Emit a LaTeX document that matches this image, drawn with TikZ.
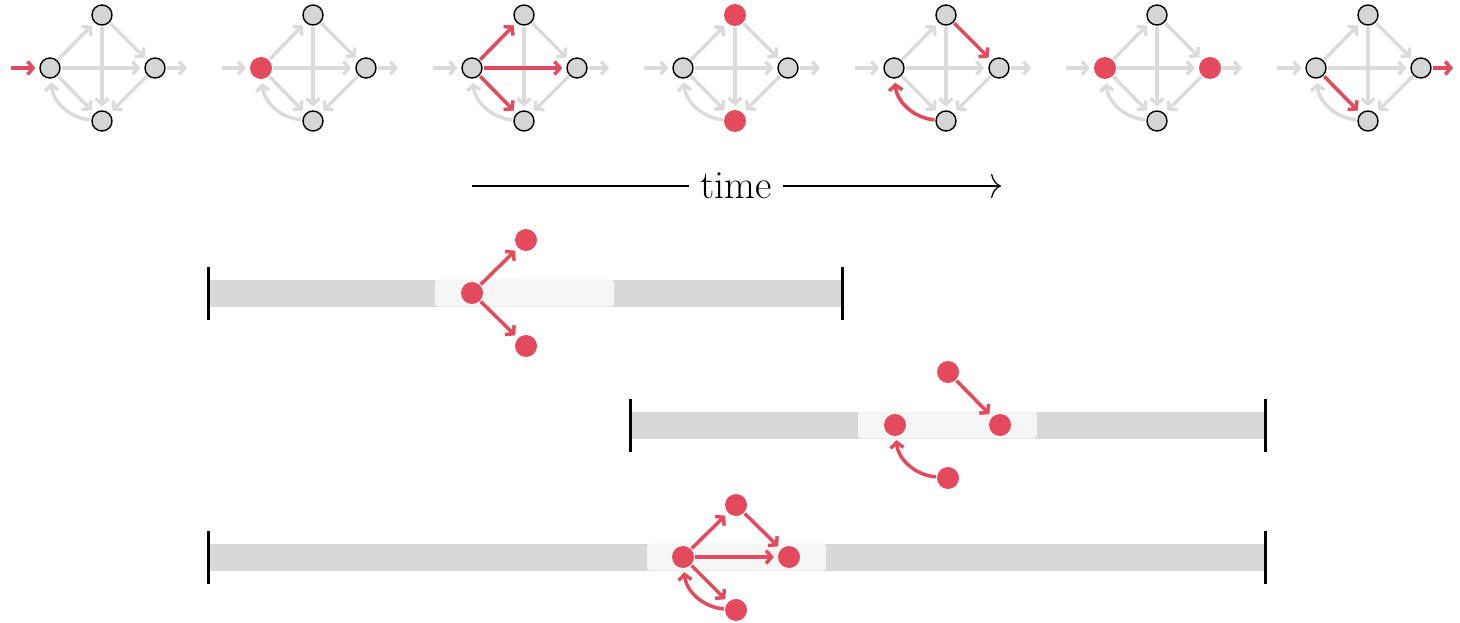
\documentclass[tikz,border=0pt]{standalone}
\usetikzlibrary{arrows.meta, positioning}
\definecolor{edgegray}{RGB}{219,219,219}
\definecolor{nodegray}{RGB}{213,213,213}
\definecolor{bargray}{RGB}{216,216,216}
\definecolor{barlight}{RGB}{245,245,245}
\definecolor{hired}{RGB}{228,74,94}

\begin{document}
\begin{tikzpicture}[x=1pt, y=1pt,
    gnode/.style={circle, draw=black, line width=1.4pt, fill=nodegray, minimum size=20pt, inner sep=0pt},
    rnode/.style={circle, fill=hired, minimum size=22pt, inner sep=0pt},
    gedge/.style={draw=edgegray, line width=3.5pt, -{Straight Barb[length=5.5pt,width=13pt]}, shorten >=4pt, shorten <=1pt},
    redge/.style={gedge, draw=hired},
    bar/.style={draw=bargray, line width=27pt},
    window/.style={fill=barlight, rounded corners=3pt},
    tick/.style={draw=black, line width=3pt}]
    \useasboundingbox (0,0) rectangle (1460,-623);

    % snapshots of the graph
    \foreach \i/\ls/\ts/\rs/\bs in {0/gnode/gnode/gnode/gnode, 1/rnode/gnode/gnode/gnode,
        2/gnode/gnode/gnode/gnode, 3/gnode/rnode/gnode/rnode, 4/gnode/gnode/gnode/gnode,
        5/rnode/gnode/rnode/gnode, 6/gnode/gnode/gnode/gnode} {
        \pgfmathsetmacro{\x}{50+211*\i}
        \node[\ls] (l\i) at (\x,-68) {};
        \node[\ts] (t\i) at (\x+52,-15) {};
        \node[\rs] (r\i) at (\x+105,-68) {};
        \node[\bs] (b\i) at (\x+52,-121) {};
        \coordinate (in\i) at (\x-40,-68);
        \coordinate (out\i) at (\x+141,-68);
        \draw[gedge] (in\i) -- (l\i);
        \draw[gedge] (r\i) -- (out\i);
        \draw[gedge] (l\i) -- (t\i);
        \draw[gedge] (l\i) -- (r\i);
        \draw[gedge] (l\i) -- (b\i);
        \draw[gedge] (t\i) -- (r\i);
        \draw[gedge] (t\i) -- (b\i);
        \draw[gedge] (r\i) -- (b\i);
        \draw[gedge] (b\i) to[bend left=40] (l\i);
    }

    % active edges
    \draw[redge] (in0) -- (l0);
    \draw[redge] (l2) -- (t2);
    \draw[redge] (l2) -- (r2);
    \draw[redge] (l2) -- (b2);
    \draw[redge] (t4) -- (r4);
    \draw[redge] (b4) to[bend left=40] (l4);
    \draw[redge] (l6) -- (b6);
    \draw[redge] (r6) -- (out6);

    % time axis
    \coordinate (ts) at (472,-186);
    \coordinate (te) at (1001,-186);
    \node[inner sep=11pt] (time) at (736,-186) {\fontsize{40}{44}\selectfont time};
    \draw[line width=1.3pt] (ts) -- (time);
    \draw[line width=1.3pt, -{Computer Modern Rightarrow[length=10pt,width=24pt]}] (time) -- (te);

    % bars
    \draw[bar] (208,-293) -- (842,-293);
    \fill[window] (435,-279.5) rectangle (614,-306.5);
    \draw[tick] (208,-267) -- (208,-320);
    \draw[tick] (842,-267) -- (842,-320);

    \draw[bar] (630,-425) -- (1265,-425);
    \fill[window] (858,-411.5) rectangle (1037,-438.5);
    \draw[tick] (630,-399) -- (630,-452);
    \draw[tick] (1265,-399) -- (1265,-452);

    \draw[bar] (208,-557) -- (1265,-557);
    \fill[window] (647,-543.5) rectangle (826,-570.5);
    \draw[tick] (208,-531) -- (208,-584);
    \draw[tick] (1265,-531) -- (1265,-584);

    % first bar
    \node[rnode] (u1) at (472,-293) {};
    \node[rnode] (u2) at (526,-240) {};
    \node[rnode] (u3) at (526,-346) {};
    \draw[redge] (u1) -- (u2);
    \draw[redge] (u1) -- (u3);

    % second bar
    \node[rnode] (v1) at (895,-425) {};
    \node[rnode] (v2) at (1000,-425) {};
    \node[rnode] (v3) at (948,-372) {};
    \node[rnode] (v4) at (948,-478) {};
    \draw[redge] (v3) -- (v2);
    \draw[redge] (v4) to[bend left=40] (v1);

    % third bar
    \node[rnode] (w1) at (683,-557) {};
    \node[rnode] (w2) at (736,-505) {};
    \node[rnode] (w3) at (789,-557) {};
    \node[rnode] (w4) at (736,-610) {};
    \draw[redge] (w1) -- (w2);
    \draw[redge] (w2) -- (w3);
    \draw[redge] (w1) -- (w3);
    \draw[redge] (w1) -- (w4);
    \draw[redge] (w4) to[bend left=40] (w1);
\end{tikzpicture}
\end{document}
